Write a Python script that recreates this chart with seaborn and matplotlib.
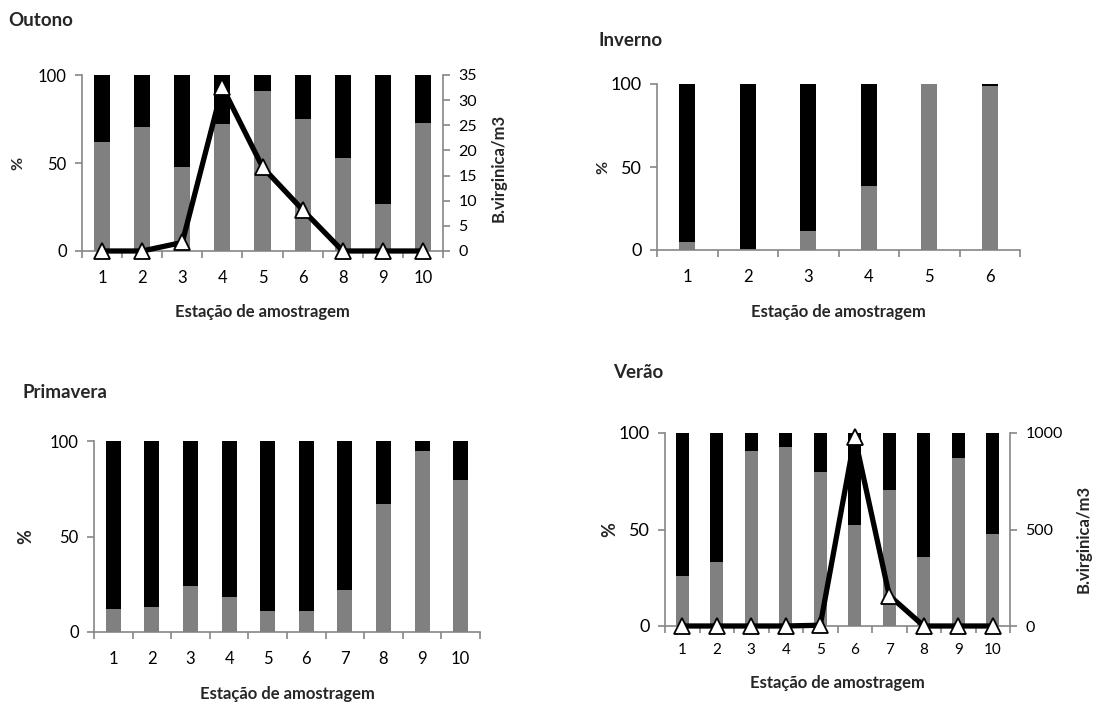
import numpy as np
import pandas as pd
import matplotlib
matplotlib.use("Agg")
import matplotlib.pyplot as plt
import seaborn as sns
from matplotlib.ticker import FixedLocator

sns.set_theme(style="white")
plt.rcParams['font.family'] = ['Lato', 'DejaVu Sans']

# ---------------- data ----------------
outono_st = ["1", "2", "3", "4", "5", "6", "8", "9", "10"]
outono_gray = [62, 70.5, 47.6, 72, 91, 75, 53, 26.5, 72.6]
outono_bv = [0, 0, 1.7, 32.6, 16.7, 8.2, 0, 0, 0]

inverno_st = ["1", "2", "3", "4", "5", "6"]
inverno_gray = [5.1, 0.4, 11.5, 38.5, 99.9, 99.0]

primavera_st = ["1", "2", "3", "4", "5", "6", "7", "8", "9", "10"]
primavera_gray = [12.1, 12.9, 24, 18.2, 10.8, 11, 22, 67.1, 94.9, 79.7]

verao_st = ["1", "2", "3", "4", "5", "6", "7", "8", "9", "10"]
verao_gray = [25.8, 33.4, 90.8, 92.7, 79.7, 52.3, 70.5, 35.7, 86.8, 47.5]
verao_bv = [0, 0, 0, 0, 4, 979, 158, 0, 0, 0]

GRAY = "#808080"
SPINE = "#868686"
W, H = 1097, 704

fig = plt.figure(figsize=(W / 100, H / 100), dpi=100)


def make_ax(left, right, top, bottom):
    return fig.add_axes([left / W, 1 - bottom / H, (right - left) / W, (bottom - top) / H])


def style_axis(ax, n, ytick_size=12, xtick_size=12, xpad=14):
    for s in ["top", "right"]:
        ax.spines[s].set_visible(False)
    for s in ["left", "bottom"]:
        ax.spines[s].set_color(SPINE)
        ax.spines[s].set_linewidth(1.2)
    ax.set_xlim(-0.5, n - 0.5)
    ax.set_ylim(0, 100)
    ax.set_yticks([0, 50, 100])
    ax.xaxis.set_minor_locator(FixedLocator(np.arange(-0.5, n, 1.0)))
    ax.tick_params(axis="x", which="major", length=0, labelsize=xtick_size, pad=xpad, colors="black")
    ax.tick_params(axis="x", which="minor", length=5, width=1.2, color=SPINE, direction="out", bottom=True)
    ax.tick_params(axis="y", length=5, width=1.2, color=SPINE, direction="out", left=True,
                   labelsize=ytick_size, labelcolor="black", pad=6)
    ax.grid(False)


def bars(ax, stations, gray, width, lab_pad=13):
    df = pd.DataFrame({"st": stations, "total": [100] * len(stations), "gray": gray})
    sns.barplot(data=df, x="st", y="total", order=stations, color="black", width=width,
                saturation=1, linewidth=0, ax=ax, zorder=2)
    sns.barplot(data=df, x="st", y="gray", order=stations, color=GRAY, width=width,
                saturation=1, linewidth=0, ax=ax, zorder=3)
    ax.set_xlabel("Estação de amostragem", fontsize=12, fontweight="bold", labelpad=lab_pad)
    ax.set_ylabel("%", fontsize=11.5, fontweight="bold")


def line(ax, values, ymax, yticks, tick_size, lab_x, lab_y):
    ax2 = ax.twinx()
    x = np.arange(len(values))
    sns.lineplot(x=x, y=values, ax=ax2, color="black", linewidth=3.8, marker="^",
                 markersize=12, markerfacecolor="white", markeredgecolor="black",
                 markeredgewidth=1.3, clip_on=False, zorder=5)
    ax2.set_ylim(0, ymax)
    ax2.set_yticks(yticks)
    for s in ["top", "left", "bottom"]:
        ax2.spines[s].set_visible(False)
    ax2.spines["right"].set_color(SPINE)
    ax2.spines["right"].set_linewidth(1.2)
    ax2.tick_params(axis="y", length=5, width=1.2, color=SPINE, direction="out", right=True,
                    labelsize=tick_size, labelcolor="black", pad=6)
    ax2.set_ylabel("B.virginica/m3", fontsize=12, fontweight="bold")
    ax2.yaxis.set_label_coords(lab_x, lab_y)
    ax2.yaxis.label.set_verticalalignment("center")
    ax2.yaxis.label.set_horizontalalignment("center")
    ax2.grid(False)
    return ax2


# Outono
ax1 = make_ax(82, 443, 75, 251)
bars(ax1, outono_st, outono_gray, 0.4)
style_axis(ax1, len(outono_st))
ax1.yaxis.labelpad = 9
line(ax1, outono_bv, 35, [0, 5, 10, 15, 20, 25, 30, 35], 11.5, (499 - 82) / 361, 0.47)
fig.text(8 / W, 1 - 20 / H, "Outono", fontsize=13.5, fontweight="bold", va="center", ha="left")

# Inverno
ax2 = make_ax(657, 1020, 84, 250)
bars(ax2, inverno_st, inverno_gray, 0.26)
style_axis(ax2, len(inverno_st), ytick_size=13)
ax2.yaxis.labelpad = 0
fig.text(598 / W, 1 - 41 / H, "Inverno", fontsize=13.5, fontweight="bold", va="center", ha="left")

# Primavera
ax3 = make_ax(94, 480, 441, 632)
bars(ax3, primavera_st, primavera_gray, 0.39)
style_axis(ax3, len(primavera_st))
ax3.set_ylabel("%", fontsize=13, fontweight="bold", labelpad=11)
fig.text(22 / W, 1 - 393 / H, "Primavera", fontsize=13.5, fontweight="bold", va="center", ha="left")

# Verão
ax4 = make_ax(665, 1010, 433, 626)
bars(ax4, verao_st, verao_gray, 0.39, lab_pad=13)
style_axis(ax4, len(verao_st), ytick_size=13, xtick_size=11, xpad=12)
ax4.set_ylabel("%", fontsize=13, fontweight="bold", labelpad=0)
line(ax4, verao_bv, 1000, [0, 500, 1000], 11.5, (1084 - 665) / 345, 0.45)
fig.text(613 / W, 1 - 373 / H, "Verão", fontsize=13.5, fontweight="bold", va="center", ha="left")

fig.savefig("out.png", dpi=100)
